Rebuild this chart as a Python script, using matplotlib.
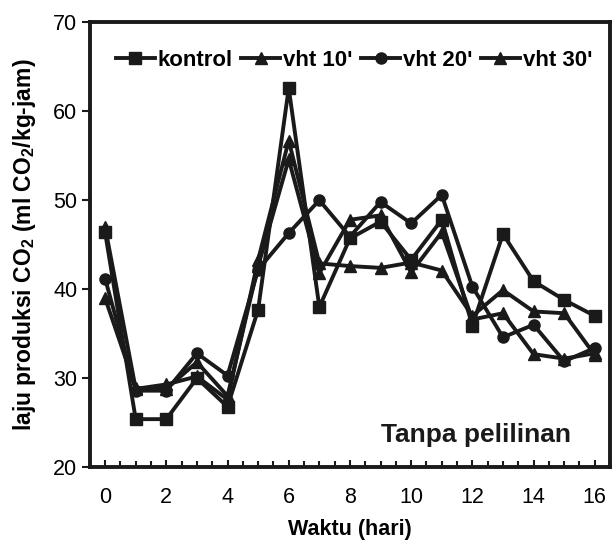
import matplotlib.pyplot as plt
from matplotlib.ticker import MultipleLocator

plt.rcParams['font.family'] = ['Liberation Sans', 'DejaVu Sans']
plt.rcParams['mathtext.fontset'] = 'custom'
plt.rcParams['mathtext.rm'] = 'Liberation Sans'
plt.rcParams['mathtext.bf'] = 'Liberation Sans:bold'

# ================== data ==================
hari = list(range(17))
kontrol = [46.4, 25.4, 25.4, 30.0, 26.8, 37.7, 62.6, 38.0, 45.7, 47.6, 43.3, 47.8, 35.9, 46.2, 40.9, 38.8, 37.0]
vht10 = [47.0, 28.8, 29.3, 30.2, 27.6, 43.3, 56.7, 42.9, 42.6, 42.4, 43.0, 42.1, 37.0, 39.9, 37.5, 37.3, 32.6]
vht20 = [41.2, 28.6, 28.6, 32.8, 30.3, 42.2, 46.3, 50.0, 45.9, 49.8, 47.4, 50.6, 40.3, 34.6, 36.0, 31.9, 33.4]
vht30 = [39.0, 28.9, 28.8, 31.8, 28.0, 42.6, 54.6, 41.8, 47.8, 48.3, 41.9, 46.4, 36.6, 37.3, 32.7, 32.2, 32.8]

series = [
    ("kontrol", kontrol, "s"),
    ("vht 10'", vht10, "^"),
    ("vht 20'", vht20, "o"),
    ("vht 30'", vht30, "^"),
]

fig = plt.figure(figsize=(6.15, 5.42), dpi=100)
ax = fig.add_axes([0.146, 0.138, 0.846, 0.821])

for label, vals, mk in series:
    ax.plot(hari, vals, color="#1a1a1a", lw=2.8, marker=mk, ms=8, label=label)

ax.set_xlim(-0.5, 16.5)
ax.set_ylim(20, 70)
ax.xaxis.set_major_locator(MultipleLocator(2))
ax.xaxis.set_minor_locator(MultipleLocator(0.5))
ax.yaxis.set_major_locator(MultipleLocator(10))

ax.tick_params(axis="x", which="both", direction="in", top=False, labelsize=15.5, pad=14, width=1.5, color="#1a1a1a")
ax.tick_params(axis="x", which="major", length=5)
ax.tick_params(axis="x", which="minor", length=4)
ax.tick_params(axis="y", direction="out", right=False, labelsize=15.5, length=6, width=1.5, pad=3, color="#1a1a1a")

for sp in ax.spines.values():
    sp.set_linewidth(2.8)
    sp.set_color("#1a1a1a")

ax.set_xlabel("Waktu (hari)", fontsize=15.5, fontweight="bold", labelpad=8)
ax.set_ylabel(r"laju produksi CO$_\mathbf{2}$ (ml CO$_\mathbf{2}$/kg-jam)", fontsize=16.5, fontweight="bold", labelpad=11)

ax.text(0.925, 0.072, "Tanpa pelilinan", transform=ax.transAxes, ha="right", va="center",
        fontsize=19, fontweight="bold", color="#1a1a1a")

leg = ax.legend(loc="center left", bbox_to_anchor=(0.05, 0.915), ncol=4, frameon=False,
                handlelength=1.75, handletextpad=0.12, columnspacing=0.4,
                borderpad=0, borderaxespad=0,
                prop={"weight": "bold", "size": 16})

fig.savefig("out.png", dpi=100)
